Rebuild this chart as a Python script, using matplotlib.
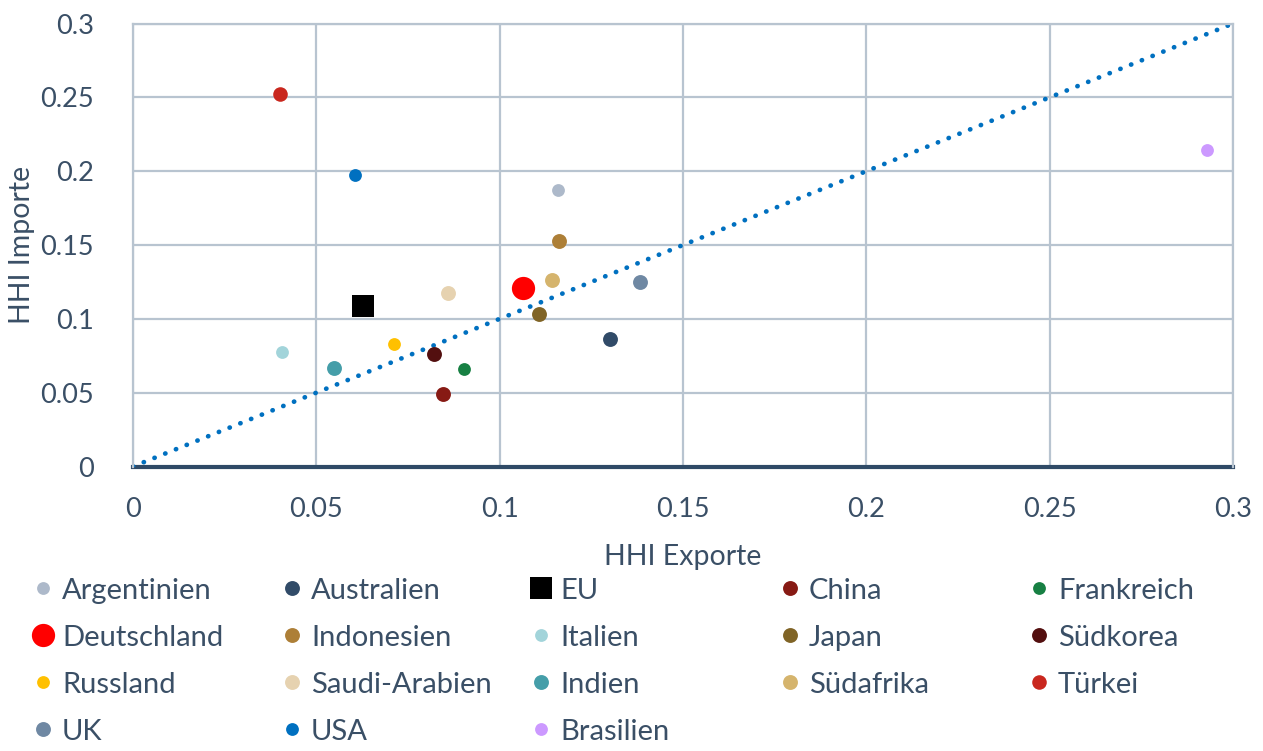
import matplotlib
matplotlib.use("Agg")
import matplotlib.pyplot as plt
from matplotlib.lines import Line2D

plt.rcParams['font.family'] = ['Lato', 'DejaVu Sans']

# data
countries = ["Argentinien", "Australien", "EU", "China", "Frankreich",
             "Deutschland", "Indonesien", "Italien", "Japan", "Südkorea",
             "Russland", "Saudi-Arabien", "Indien", "Südafrika", "Türkei",
             "UK", "USA", "Brasilien"]
hhi_exp = [0.1158, 0.1300, 0.0627, 0.0845, 0.0902,
           0.1063, 0.1161, 0.0406, 0.1106, 0.0820,
           0.0711, 0.0858, 0.0548, 0.1144, 0.0401,
           0.1384, 0.0605, 0.2929]
hhi_imp = [0.1873, 0.0862, 0.1086, 0.0489, 0.0658,
           0.1208, 0.1527, 0.0774, 0.1032, 0.0760,
           0.0828, 0.1174, 0.0665, 0.1262, 0.2525,
           0.1249, 0.1975, 0.2145]
colors = ["#ADB9CA", "#314B68", "#000000", "#871A14", "#178043",
          "#FF0000", "#AD7F37", "#A2D4DA", "#806426", "#530F0F",
          "#FFC000", "#E6D2B0", "#459EA9", "#D5B46D", "#C9271E",
          "#6F88A3", "#0070C0", "#CC99FF"]
sizes = [85, 115, 250, 115, 85,
         280, 115, 85, 115, 115,
         85, 115, 115, 115, 110,
         115, 85, 85]
markers = ["s" if c == "EU" else "o" for c in countries]

text_col = "#3A4F66"
fig = plt.figure(figsize=(12.63, 7.51), dpi=100)
ax = fig.add_axes([0.1053, 0.3788, 0.871, 0.5899])

ax.plot([0, 0.3], [0, 0.3], color="#0070C0", lw=3.4,
        linestyle=(0, (0.05, 2.4)), dash_capstyle="round", zorder=2)

handles = []
for c, x, y, col, s, m in zip(countries, hhi_exp, hhi_imp, colors, sizes, markers):
    ax.scatter(x, y, s=s, color=col, marker=m, linewidths=0, zorder=3)
    handles.append(Line2D([], [], marker=m, color=col, linestyle="",
                          markersize=s ** 0.5, markeredgewidth=0, label=c))

ax.set_xlim(0, 0.3)
ax.set_ylim(0, 0.3)
ticks = [0, 0.05, 0.1, 0.15, 0.2, 0.25, 0.3]
tick_labels = ["0", "0.05", "0.1", "0.15", "0.2", "0.25", "0.3"]
ax.set_xticks(ticks, tick_labels)
ax.set_yticks(ticks, tick_labels)
ax.grid(True, color="#B8C4D0", lw=1.6, zorder=0)
ax.set_axisbelow(True)
for side in ["top", "right", "left"]:
    ax.spines[side].set_color("#B8C4D0")
    ax.spines[side].set_linewidth(1.6)
ax.spines["bottom"].set_color("#2F4A66")
ax.spines["bottom"].set_linewidth(3)
ax.spines["bottom"].set_zorder(1)
ax.tick_params(length=0, labelsize=19.5, labelcolor=text_col)
ax.tick_params(axis="x", pad=22)
ax.tick_params(axis="y", pad=28)
ax.set_xlabel("HHI Exporte", fontsize=20.5, color=text_col, labelpad=16)
ax.set_ylabel("HHI Importe", fontsize=20.5, color=text_col, labelpad=4)

# legend: 5 equal-width columns, chart rows read left to right
ncol = 5
col_x0 = 0.026
col_w = 249 / 1263
for j in range(ncol):
    col_handles = handles[j::ncol]
    leg = fig.legend(handles=col_handles, loc="upper left",
                     bbox_to_anchor=(col_x0 + j * col_w, 0.231),
                     frameon=False, fontsize=21, handlelength=0.7,
                     handletextpad=0.3, labelspacing=0.72,
                     borderpad=0, borderaxespad=0)
    for t in leg.get_texts():
        t.set_color(text_col)

fig.savefig("out.png", dpi=100)
